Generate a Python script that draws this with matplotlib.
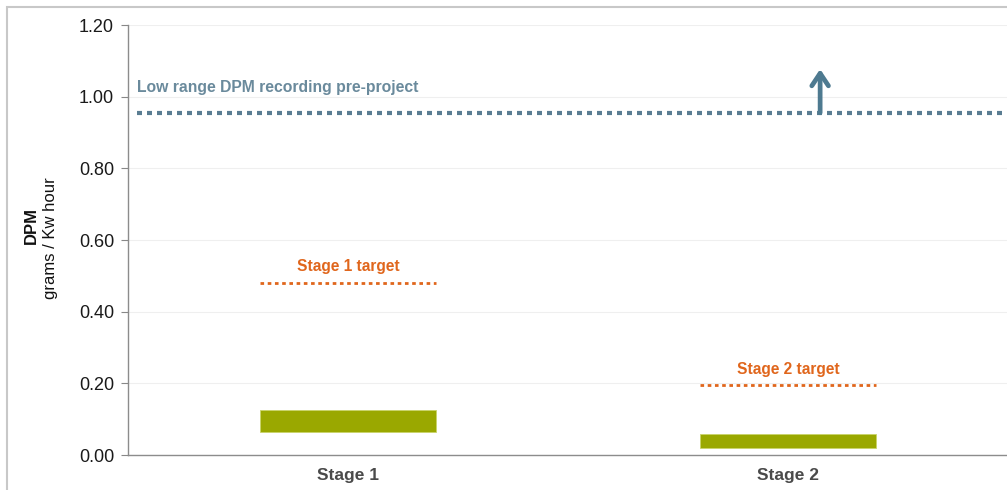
import matplotlib
matplotlib.use("Agg")
import matplotlib.pyplot as plt
from matplotlib.patches import Rectangle

categories = ["Stage 1", "Stage 2"]
range_low = [0.065, 0.020]
range_high = [0.125, 0.060]
targets = [0.48, 0.195]
target_labels = ["Stage 1 target", "Stage 2 target"]
pre_project_low = 0.955
arrow_top = 1.077
pre_label = "Low range DPM recording pre-project"
yticks = [0.0, 0.2, 0.4, 0.6, 0.8, 1.0, 1.2]

plt.rcParams['font.family'] = ['Liberation Sans', 'DejaVu Sans']

fig = plt.figure(figsize=(10.07, 4.90), dpi=100)
ax = fig.add_axes([128/1007, 35/490, 1 - 128/1007 + 0.001, (455-25)/490])
# figure border
fig.patches.append(Rectangle((7/1007, -0.1), 1.1, 1 - 7/490 + 0.1, transform=fig.transFigure,
                             fill=False, edgecolor='#C8C8C8', linewidth=1.5))

green = '#9AA800'
orange = '#E0661C'
blue = '#5A7D92'
bw = 0.4
x = list(range(len(categories)))

ax.bar(x, [h - l for h, l in zip(range_high, range_low)], bottom=range_low, width=bw,
       color=green, edgecolor='#C9D36A', linewidth=0.6, zorder=3)

for xi, t, lab in zip(x, targets, target_labels):
    ax.plot([xi - bw/2, xi + bw/2], [t, t], color=orange, linewidth=2.0,
            linestyle=(0, (1.3, 1.3)), dash_capstyle='butt', zorder=4)
    ax.text(xi, t + 0.024, lab, ha='center', va='bottom', color=orange,
            fontsize=11.2, fontweight='bold')

ax.plot([-0.48, 1.5], [pre_project_low, pre_project_low], color=blue, linewidth=3.0,
        linestyle=(0, (1.2, 1.2)), dash_capstyle='butt', zorder=4)
ax.text(-0.48, pre_project_low + 0.05, pre_label, ha='left', va='bottom',
        color='#6A8A9C', fontsize=11.3, fontweight='bold')
ax.annotate('', xy=(1.073, arrow_top), xytext=(1.073, pre_project_low),
            arrowprops=dict(arrowstyle='->,head_length=0.9,head_width=0.6',
                            color='#4E7A90', lw=3.4, shrinkA=0, shrinkB=0), zorder=5)

ax.set_xlim(-0.5, 1.5)
ax.set_ylim(0, 1.2)
ax.set_yticks(yticks)
ax.set_yticklabels([f"{v:.2f}" for v in yticks], fontsize=13, color='#1A1A1A')
ax.set_xticks(x)
ax.set_xticklabels(categories, fontsize=12.5, fontweight='bold', color='#4A4A4A')
ax.tick_params(axis='x', length=0, pad=9)
ax.tick_params(axis='y', length=5, color='#888888', pad=5)
ax.grid(axis='y', color='#EFEFEF', linewidth=0.8, zorder=0)
ax.set_axisbelow(True)
for s in ['top', 'right']:
    ax.spines[s].set_visible(False)
for s in ['left', 'bottom']:
    ax.spines[s].set_color('#8C8C8C')
    ax.spines[s].set_linewidth(1.0)

fig.text(31/1007, 1 - 225/490, 'DPM', rotation=90, ha='center', va='center',
         fontsize=12, fontweight='bold', color='#111111')
fig.text(50/1007, 1 - 238/490, 'grams / Kw hour', rotation=90, ha='center', va='center',
         fontsize=12, color='#111111')

fig.savefig('out.png', dpi=100)
